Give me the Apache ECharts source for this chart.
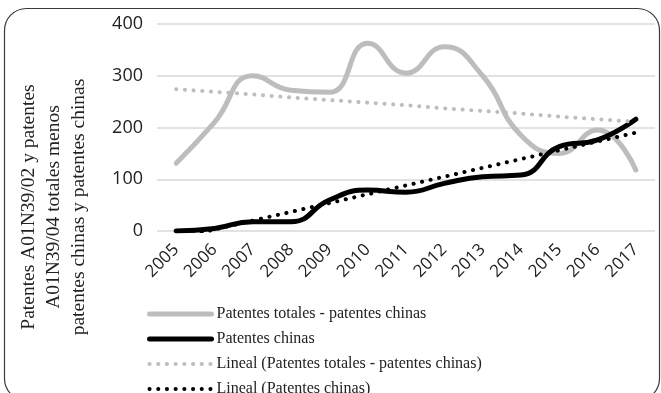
<!DOCTYPE html>
<html>
<head>
<meta charset="utf-8">
<script src="https://cdn.jsdelivr.net/npm/echarts@6/dist/echarts.min.js"></script>
<style>
html,body{margin:0;padding:0;background:#fff;}
#chart{width:661px;height:393px;}
</style>
</head>
<body>
<div id="chart"></div>
<script>
const years = ['2005','2006','2007','2008','2009','2010','2011','2012','2013','2014','2015','2016','2017'];
const totalesMenosChinas = [131, 210, 300, 272, 268, 363, 305, 356, 300, 185, 150, 195, 118];
const chinas = [0, 5, 18, 18, 60, 79, 75, 92, 105, 108, 163, 176, 216];
const linealTotales = [274, 269, 264, 258, 253, 248, 243, 237, 232, 227, 221, 216, 211];
const linealChinas = [-14, 3, 20, 37, 54, 71, 88, 105, 122, 139, 156, 173, 190];
const yTicks = [0, 100, 200, 300, 400];
const seriesNames = [
  'Patentes totales - patentes chinas',
  'Patentes chinas',
  'Lineal (Patentes totales - patentes chinas)',
  'Lineal (Patentes chinas)'
];
const yTitle = 'Patentes A01N39/02 y patentes\nA01N39/04 totales menos\npatentes chinas y patentes chinas';

const GRAY = '#BDBDBD';
const BLACK = '#000000';
const dotted = [0.1, 8.6];

const chart = echarts.init(document.getElementById('chart'), null, {renderer: 'canvas'});
chart.setOption({
  animation: false,
  backgroundColor: '#fff',
  grid: {left: 157, right: 6, top: 24, bottom: 162, containLabel: false},
  xAxis: {
    type: 'category',
    data: years,
    boundaryGap: true,
    axisLine: {show: false},
    axisTick: {show: false},
    axisLabel: {
      rotate: 45,
      margin: 16,
      fontFamily: 'Open Sans',
      fontSize: 17,
      color: '#222'
    }
  },
  yAxis: {
    type: 'value',
    min: yTicks[0],
    max: yTicks[yTicks.length - 1],
    interval: 100,
    axisLine: {show: false},
    axisTick: {show: false},
    splitLine: {lineStyle: {color: '#D9D9D9', width: 1.5}},
    axisLabel: {
      margin: 14,
      fontFamily: 'Open Sans',
      fontSize: 18,
      color: '#222'
    }
  },
  legend: {
    orient: 'vertical',
    left: 147,
    top: 306,
    height: 300,
    itemWidth: 62,
    itemHeight: 10,
    itemGap: 9,
    padding: 0,
    textStyle: {fontFamily: 'Liberation Serif', fontSize: 16, lineHeight: 16, color: '#222'},
    data: [
      {name: seriesNames[0], itemStyle: {opacity: 0}, lineStyle: {color: GRAY, width: 5, cap: 'round'}},
      {name: seriesNames[1], itemStyle: {opacity: 0}, lineStyle: {color: BLACK, width: 5, cap: 'round'}},
      {name: seriesNames[2], itemStyle: {opacity: 0}, lineStyle: {color: GRAY, width: 4, type: dotted, cap: 'round'}},
      {name: seriesNames[3], itemStyle: {opacity: 0}, lineStyle: {color: BLACK, width: 4, type: dotted, cap: 'round'}}
    ]
  },
  graphic: [
    {
      type: 'rect',
      shape: {x: 4.5, y: 8.5, width: 655, height: 392, r: 22},
      style: {fill: 'none', stroke: '#3a3a3a', lineWidth: 1.2},
      z: 100
    },
    {
      type: 'text',
      x: 54,
      y: 207,
      rotation: Math.PI / 2,
      style: {
        text: yTitle,
        fontFamily: 'Liberation Serif',
        fontSize: 19.5,
        lineHeight: 25,
        fill: '#222',
        align: 'center',
        verticalAlign: 'middle'
      }
    }
  ],
  series: [
    {
      name: seriesNames[0], type: 'line', data: totalesMenosChinas, smooth: 0.5,
      symbol: 'none', lineStyle: {color: GRAY, width: 5, cap: 'round'}, itemStyle: {color: GRAY}, z: 2
    },
    {
      name: seriesNames[1], type: 'line', data: chinas, smooth: 0.5,
      symbol: 'none', lineStyle: {color: BLACK, width: 5, cap: 'round'}, itemStyle: {color: BLACK}, z: 3
    },
    {
      name: seriesNames[2], type: 'line', data: linealTotales,
      symbol: 'none', lineStyle: {color: GRAY, width: 4, type: dotted, cap: 'round'}, itemStyle: {color: GRAY}, z: 4
    },
    {
      name: seriesNames[3], type: 'line', data: linealChinas,
      symbol: 'none', lineStyle: {color: BLACK, width: 4, type: dotted, cap: 'round'}, itemStyle: {color: BLACK}, z: 5
    }
  ]
});
</script>
</body>
</html>
